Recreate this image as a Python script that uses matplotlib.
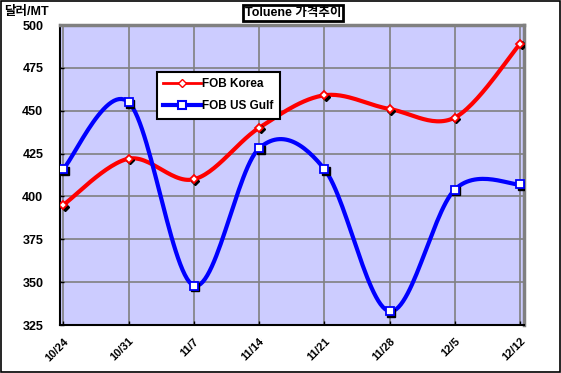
import numpy as np
import matplotlib.pyplot as plt
import matplotlib.transforms as mtransforms
from matplotlib.lines import Line2D
from matplotlib.patches import Rectangle

plt.rcParams['font.family'] = ['Liberation Sans', 'Noto Sans CJK KR', 'DejaVu Sans']

dates = ["10/24", "10/31", "11/7", "11/14", "11/21", "11/28", "12/5", "12/12"]
fob_korea = [395, 422, 410, 440, 459, 451, 446, 489]
fob_us_gulf = [416, 455, 348, 428, 416, 333, 404, 407]
y_ticks = [325, 350, 375, 400, 425, 450, 475, 500]


def smooth(xs, ys, sx, sy, n=30):
    # excel-style smoothed line: bezier through the points, computed in pixel units
    px = np.asarray(xs, float) * sx
    py = np.asarray(ys, float) * sy
    P = np.column_stack([px, py])
    P = np.vstack([P[0], P, P[-1]])
    out = []
    t = np.linspace(0, 1, n)[:, None]
    for i in range(1, len(P) - 2):
        p0, p1, p2, p3 = P[i - 1], P[i], P[i + 1], P[i + 2]
        c1 = p1 + (p2 - p0) / 6.0
        c2 = p2 - (p3 - p1) / 6.0
        seg = ((1 - t) ** 3) * p1 + 3 * ((1 - t) ** 2) * t * c1 + 3 * (1 - t) * t ** 2 * c2 + t ** 3 * p2
        out.append(seg if i == 1 else seg[1:])
    out = np.vstack(out)
    return out[:, 0] / sx, out[:, 1] / sy


fig = plt.figure(figsize=(5.61, 3.73), dpi=100)
ax = fig.add_axes([60 / 561, 1 - 325 / 373, 464 / 561, 300 / 373])
ax.set_facecolor("#CCCCFF")

x = np.arange(len(dates))
sx, sy = 65.3, 300 / 175

shadow = mtransforms.offset_copy(ax.transData, fig=fig, x=1.5, y=-1.5, units='dots')

for vals, col, mk, ms in [(fob_korea, "#FF0000", "D", 4.5), (fob_us_gulf, "#0000FF", "s", 5.5)]:
    xs, ys = smooth(x, vals, sx, sy)
    ax.plot(xs, ys, color=col, lw=3, solid_capstyle='round', zorder=3)
    ax.plot(x, vals, ls='none', marker=mk, ms=ms, color='black', transform=shadow, zorder=4)
    ax.plot(x, vals, ls='none', marker=mk, ms=ms, mfc='white', mec=col, mew=1.3, zorder=5)

ax.set_xlim(-0.05, 7.06)
ax.set_ylim(325, 500)
ax.set_yticks(y_ticks)
ax.set_xticks(x)
ax.set_xticklabels(dates, rotation=45, ha='right', va='top', fontsize=8, fontweight='bold',
                   rotation_mode='anchor')
ax.set_yticklabels([str(v) for v in y_ticks], fontsize=9, fontweight='bold')
ax.tick_params(axis='both', length=3, width=1, direction='in')
ax.tick_params(axis='x', pad=8)
ax.tick_params(axis='y', pad=12)
ax.grid(True, color="#808080", lw=1.2)
ax.set_axisbelow(True)

for side in ["top", "right"]:
    ax.spines[side].set_color("#808080")
    ax.spines[side].set_linewidth(2.5)
for side in ["left", "bottom"]:
    ax.spines[side].set_color("black")
    ax.spines[side].set_linewidth(1.5)

handles = [
    Line2D([], [], color="#FF0000", lw=2, marker="D", ms=4, mfc='white', mec="#FF0000"),
    Line2D([], [], color="#0000FF", lw=3, marker="s", ms=6, mfc='white', mec="#0000FF", mew=1.5),
]
leg = ax.legend(handles, ["FOB Korea", "FOB US Gulf"], loc='upper left',
                bbox_to_anchor=(0.209, 0.845), frameon=True, fancybox=False,
                edgecolor='black', framealpha=1, prop={'size': 8.5, 'weight': 'bold'},
                handlelength=3.2, handletextpad=0.1, borderpad=0.55, labelspacing=0.85,
                borderaxespad=0)
leg.get_frame().set_linewidth(1.5)
leg.set_zorder(10)

fig.text(4 / 561, 1 - 12 / 373, "달러/MT", fontsize=9, fontweight='bold', va='center', ha='left')
fig.text(293 / 561, 1 - 13 / 373, "Toluene 가격추이", fontsize=9, fontweight='bold',
         va='center', ha='center',
         bbox=dict(boxstyle='square,pad=0.15', fc='white', ec='black', lw=2))

fig.patches.append(Rectangle((0.002, 0.002), 0.996, 0.996, transform=fig.transFigure,
                             fill=False, ec='black', lw=1.2))

fig.savefig("out.png", dpi=100)
